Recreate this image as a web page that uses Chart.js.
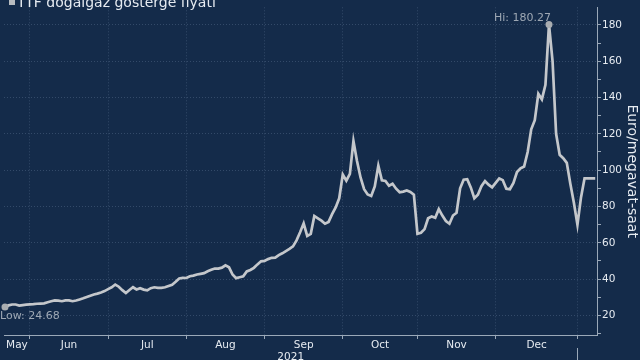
<!DOCTYPE html>
<html><head><meta charset="utf-8">
<script src="https://cdn.jsdelivr.net/npm/chart.js@4/dist/chart.umd.min.js"></script>
<style>html,body{margin:0;padding:0;background:#142b4a;}#wrap{width:640px;height:360px;position:relative;overflow:hidden}</style>
</head><body><div id="wrap"><canvas id="c" width="640" height="360"></canvas></div>
<script>
// ---- data ----
const seriesName = 'TTF doğalgaz gösterge fiyatı';
const axisTitle = 'Euro/megavat-saat';
const yearLabel = '2021';
const startDate = '2021-05-21'; // first trading day shown (weekdays only)
const monthLabels = ['May','Jun','Jul','Aug','Sep','Oct','Nov','Dec'];
const yTickValues = [20,40,60,80,100,120,140,160,180];
const prices = [
 24.68,25.5,26.0,26.0,25.4,25.7,25.9,
 26.1,26.2,26.4,26.5,26.6,27.2,27.8,28.3,28.1,27.8,28.3,28.3,27.8,28.2,28.8,29.4,30.1,30.8,31.5,32.0,32.6,33.4,
 34.5,35.5,37.0,35.8,33.9,32.3,34.0,35.5,34.3,35.0,34.2,33.8,35.0,35.5,35.2,35.2,35.5,36.2,36.9,38.5,40.3,40.7,
 40.6,41.6,41.9,42.5,42.9,43.3,44.3,45.1,45.8,45.8,46.3,47.6,46.5,42.5,40.5,41.0,41.5,44.2,45.0,46.2,48.1,49.8,
 50.0,51.0,51.7,51.8,53.2,54.2,55.4,56.6,58.0,61.3,65.8,70.7,63.8,64.9,74.8,73.5,72.2,70.5,71.5,75.8,79.5,84.5,
 97.6,94.2,98.0,116.0,105.0,96.0,89.5,86.6,85.8,91.0,102.5,94.4,94.0,91.4,92.5,89.8,87.8,88.2,88.8,88.0,86.5,
 65.0,65.5,67.5,73.5,74.5,73.8,78.5,75.0,72.0,70.5,75.0,76.5,90.0,94.7,95.0,90.5,84.5,86.5,91.2,94.0,92.0,90.5,
 93.0,95.4,94.5,89.8,89.5,93.0,99.0,101.0,102.0,110.0,122.5,127.5,142.0,139.0,147.0,180.27,160.0,120.0,108.5,106.6,104.0,92.5,82.0,
 70.0,85.0,95.5,95.5,95.5,95.5
];

// ---- derived ----
const dates = [];
{
  let d = new Date(startDate + 'T00:00:00Z');
  while (dates.length < prices.length) {
    const wd = d.getUTCDay();
    if (wd !== 0 && wd !== 6) dates.push(new Date(d));
    d = new Date(d.getTime() + 86400000);
  }
}
const boundaries = [];
for (let i = 1; i < dates.length; i++) {
  if (dates[i].getUTCMonth() !== dates[i-1].getUTCMonth()) boundaries.push(i);
}
const XMIN = -0.28, XMAX = 166.5;
const xTicks = [];
const labelMap = new Map();
const boundarySet = new Set(boundaries);
boundaries.forEach(b => xTicks.push(b));
monthLabels.forEach((m, k) => {
  const s = k === 0 ? XMIN : boundaries[k-1];
  const e = boundaries[k];
  const c = (s + e) / 2;
  xTicks.push(c);
  labelMap.set(c, m);
});
xTicks.sort((a,b)=>a-b);
const yearEnd = boundaries[monthLabels.length - 1];

let hiIdx = 0, loIdx = 0;
prices.forEach((v,i)=>{ if (v > prices[hiIdx]) hiIdx = i; if (v < prices[loIdx]) loIdx = i; });

const BG = '#142b4a';
const GRID = 'rgba(150,175,205,0.24)';
const AXIS = '#9aa8b8';
const TXT = '#e6ebf1';
const LINE = '#c4c7cb';
const NOTE = '#9ea8b4';

const decor = {
  id: 'decor',
  beforeDraw(chart) {
    const c = chart.ctx; c.save(); c.fillStyle = BG; c.fillRect(0,0,chart.width,chart.height); c.restore();
  },
  afterDatasetsDraw(chart) {
    const c = chart.ctx;
    const meta = chart.getDatasetMeta(0);
    const hp = meta.data[hiIdx], lp = meta.data[loIdx];
    c.save();
    c.font = '11px "DejaVu Sans"';
    c.fillStyle = NOTE;
    c.textAlign = 'right'; c.textBaseline = 'alphabetic';
    c.fillText('Hi: ' + prices[hiIdx].toFixed(2), hp.x + 2, hp.y - 3);
    c.textAlign = 'left'; c.textBaseline = 'top';
    c.fillText('Low: ' + prices[loIdx].toFixed(2), 0, lp.y + 4);
    c.restore();
  },
  afterDraw(chart) {
    const c = chart.ctx;
    const xs = chart.scales.x;
    c.save();
    // legend
    c.fillStyle = '#b8bcc0';
    c.fillRect(9, -2, 6, 7);
    c.fillStyle = TXT;
    c.font = '14px "DejaVu Sans"';
    c.textAlign = 'left'; c.textBaseline = 'alphabetic';
    c.fillText(seriesName, 17, 7);
    // year label
    const x0 = xs.getPixelForValue(XMIN), x1 = xs.getPixelForValue(yearEnd);
    c.font = '10.5px "DejaVu Sans"';
    c.textAlign = 'center';
    c.fillText(yearLabel, (x0 + x1) / 2, 360);
    // year separator
    c.strokeStyle = AXIS; c.lineWidth = 1;
    c.beginPath(); c.moveTo(Math.round(x1)+0.5, 348); c.lineTo(Math.round(x1)+0.5, 360); c.stroke();
    c.restore();
  }
};

new Chart(document.getElementById('c'), {
  type: 'line',
  data: {
    datasets: [{
      label: seriesName,
      data: prices.map((v,i)=>({x:i, y:v})),
      borderColor: LINE,
      borderWidth: 2.7,
      tension: 0,
      pointRadius: ctx => (ctx.dataIndex === hiIdx || ctx.dataIndex === loIdx) ? 3.5 : 0,
      pointBackgroundColor: '#a9adb1',
      pointBorderWidth: 0,
      clip: false
    }]
  },
  options: {
    responsive: false,
    animation: false,
    layout: { padding: 0 },
    plugins: { legend: { display: false }, tooltip: { enabled: false }, title: { display: false } },
    scales: {
      x: {
        type: 'linear', position: 'bottom', min: XMIN, max: XMAX,
        afterBuildTicks: s => { s.ticks = xTicks.map(v => ({ value: v })); },
        afterFit: s => { s.height = 25; },
        ticks: {
          autoSkip: false, maxRotation: 0, minRotation: 0, padding: 0,
          color: TXT, font: { family: 'DejaVu Sans', size: 10.5 },
          callback: v => labelMap.has(v) ? labelMap.get(v) : ''
        },
        grid: {
          color: ctx => (ctx.tick && boundarySet.has(ctx.tick.value)) ? GRID : 'rgba(0,0,0,0)',
          tickColor: ctx => (ctx.tick && boundarySet.has(ctx.tick.value)) ? AXIS : 'rgba(0,0,0,0)',
          tickLength: 4, lineWidth: 1
        },
        border: { color: AXIS, width: 1, dash: [1,2] }
      },
      y: {
        type: 'linear', position: 'right', min: 9.2, max: 189.7,
        afterBuildTicks: s => {
          const t = [];
          for (let v = 10; v <= 189; v += 10) t.push({ value: v });
          s.ticks = t;
        },
        afterFit: s => { s.width = 43; },
        ticks: {
          padding: 1, color: TXT, font: { family: 'DejaVu Sans', size: 10.5 },
          callback: v => yTickValues.includes(v) ? String(v) : ''
        },
        grid: {
          color: ctx => (ctx.tick && yTickValues.includes(ctx.tick.value)) ? GRID : 'rgba(0,0,0,0)',
          tickColor: AXIS, tickLength: 4, lineWidth: 1
        },
        border: { color: AXIS, width: 1, dash: [1,2] },
        title: { display: true, text: axisTitle, color: TXT, font: { family: 'DejaVu Sans', size: 14 }, padding: 0 }
      }
    }
  },
  plugins: [decor]
});
</script>
</body></html>
